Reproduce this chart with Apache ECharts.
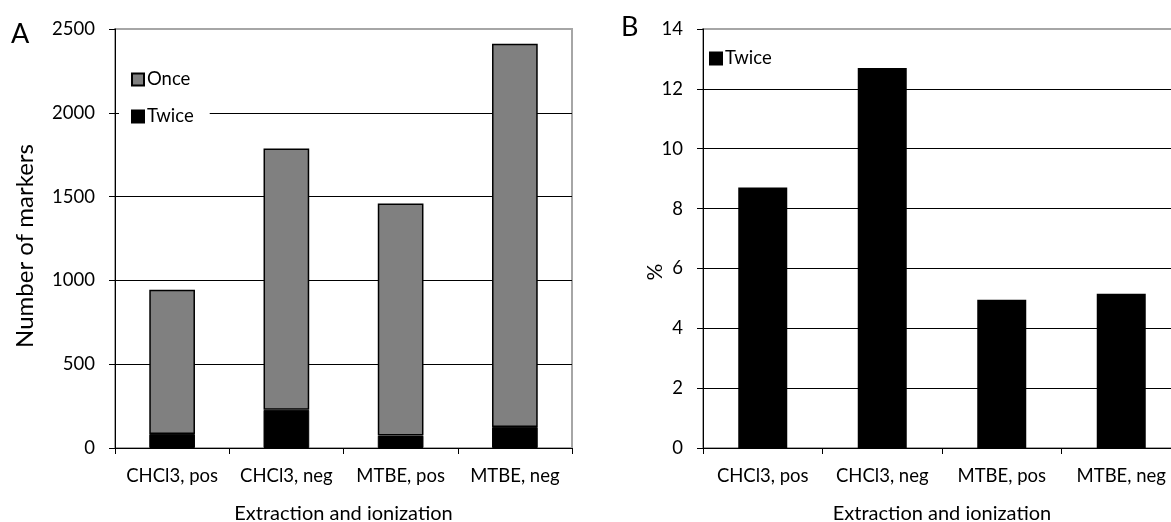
<!DOCTYPE html>
<html>
<head>
<meta charset="utf-8">
<script src="https://cdn.jsdelivr.net/npm/echarts@6/dist/echarts.min.js"></script>
<style>
  html, body { margin: 0; padding: 0; background: #fff; }
  #chart { width: 1171px; height: 522px; }
</style>
</head>
<body>
<div id="chart"></div>
<script>
// data
var categories = ['CHCl3, pos', 'CHCl3, neg', 'MTBE, pos', 'MTBE, neg'];
var twiceCounts = [84, 228, 74, 126];
var onceCounts = [860, 1559, 1385, 2286];
var twicePercent = [8.7, 12.7, 4.95, 5.15];

var FONT = 'Lato';
var black = '#000';
var frame = '#a6a6a6';
var tickSize = 18.5;

function splitColors(n) {
  // black gridlines, the top one is the grey plot frame
  var c = [];
  for (var i = 0; i < n; i++) c.push(i === n - 1 ? frame : black);
  return c;
}

function plain(v) { return String(v); }

var chart = echarts.init(document.getElementById('chart'));

chart.setOption({
  animation: false,
  textStyle: { fontFamily: FONT, color: '#000' },
  grid: [
    { left: 115, top: 29, width: 457, height: 419, show: true, borderColor: frame, borderWidth: 2,
      containLabel: false, outerBoundsMode: 'none' },
    { left: 703, top: 29, width: 478, height: 419, show: true, borderColor: frame, borderWidth: 2,
      containLabel: false, outerBoundsMode: 'none' }
  ],
  legend: [
    {
      data: ['Once', 'Twice'],
      orient: 'vertical',
      left: 119, top: 61,
      padding: [9, 16, 9, 12],
      itemGap: 18,
      itemWidth: 12, itemHeight: 12,
      icon: 'rect',
      backgroundColor: '#fff',
      textStyle: { fontSize: tickSize, fontFamily: FONT, color: '#000', padding: [0, 0, 0, -2] }
    },
    {
      data: ['Twice'],
      left: 703, top: 47,
      padding: [2, 10, 2, 6],
      itemWidth: 12, itemHeight: 12,
      icon: 'rect',
      textStyle: { fontSize: tickSize, fontFamily: FONT, color: '#000', padding: [0, 0, 0, -2] }
    }
  ],
  xAxis: [
    {
      type: 'category', gridIndex: 0, data: categories,
      name: 'Extraction and ionization', nameLocation: 'middle', nameGap: 56,
      nameTextStyle: { fontSize: 20, fontFamily: FONT, color: black },
      axisLine: { lineStyle: { color: black, width: 1 } },
      axisTick: { show: true, length: 6, lineStyle: { color: black } },
      axisLabel: { fontSize: tickSize, margin: 19, color: black, interval: 0, hideOverlap: false }
    },
    {
      type: 'category', gridIndex: 1, data: categories,
      name: 'Extraction and ionization', nameLocation: 'middle', nameGap: 56,
      nameTextStyle: { fontSize: 20, fontFamily: FONT, color: black },
      axisLine: { lineStyle: { color: black, width: 1 } },
      axisTick: { show: true, length: 6, lineStyle: { color: black } },
      axisLabel: { fontSize: tickSize, margin: 19, color: black, interval: 0, hideOverlap: false }
    }
  ],
  yAxis: [
    {
      type: 'value', gridIndex: 0, min: 0, max: 2500, interval: 500,
      axisLine: { show: true, lineStyle: { color: black } },
      axisTick: { show: true, length: 6, lineStyle: { color: black } },
      axisLabel: { fontSize: tickSize, margin: 20, color: black, formatter: plain },
      splitLine: { lineStyle: { color: splitColors(6), width: 1 } }
    },
    {
      type: 'value', gridIndex: 1, min: 0, max: 14, interval: 2,
      axisLine: { show: true, lineStyle: { color: black } },
      axisTick: { show: true, length: 6, lineStyle: { color: black } },
      axisLabel: { fontSize: tickSize, margin: 20, color: black, formatter: plain },
      splitLine: { lineStyle: { color: splitColors(8), width: 1 } }
    }
  ],
  series: [
    {
      name: 'Twice', type: 'bar', stack: 'markers', xAxisIndex: 0, yAxisIndex: 0,
      data: twiceCounts, barWidth: '40%',
      itemStyle: { color: '#000', borderColor: '#000', borderWidth: 1 }
    },
    {
      name: 'Once', type: 'bar', stack: 'markers', xAxisIndex: 0, yAxisIndex: 0,
      data: onceCounts, barWidth: '40%',
      itemStyle: { color: '#808080', borderColor: '#000', borderWidth: 1.5 }
    },
    {
      name: 'Twice', type: 'bar', xAxisIndex: 1, yAxisIndex: 1,
      data: twicePercent, barWidth: '41%',
      itemStyle: { color: '#000' }
    }
  ],
  graphic: [
    { type: 'text', left: 11, top: 21, style: { text: 'A', fontSize: 27, fontFamily: FONT, fill: '#000' } },
    { type: 'text', left: 621, top: 14, style: { text: 'B', fontSize: 27, fontFamily: FONT, fill: '#000' } },
    { type: 'text', x: 25, y: 246, rotation: Math.PI / 2,
      style: { text: 'Number of markers', fontSize: 24, fontFamily: FONT, fill: '#000', align: 'center', verticalAlign: 'middle' } },
    { type: 'text', x: 655, y: 272, rotation: Math.PI / 2,
      style: { text: '%', fontSize: 21, fontFamily: FONT, fill: '#000', align: 'center', verticalAlign: 'middle' } }
  ]
});
</script>
</body>
</html>
